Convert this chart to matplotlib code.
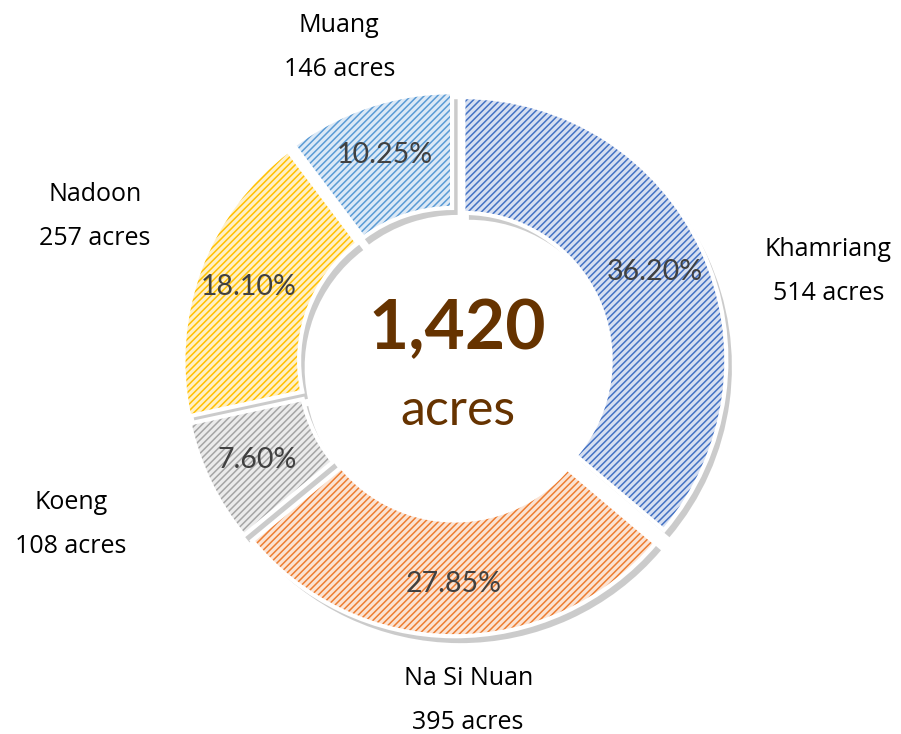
import numpy as np
import matplotlib
matplotlib.use("Agg")
import matplotlib.pyplot as plt
import matplotlib.patheffects as pe

# districts and their area (acres), clockwise from the top
districts = ["Khamriang", "Na Si Nuan", "Koeng", "Nadoon", "Muang"]
acres = [514, 395, 108, 257, 146]
pct_labels = ["36.20%", "27.85%", "7.60%", "18.10%", "10.25%"]
total_label = "1,420"

fill_colors = ["#D6DFF1", "#FBE3D3", "#EBEBEB", "#FFF0C6", "#DCE9F6"]
hatch_colors = ["#4472C4", "#ED7D31", "#A5A5A5", "#FFC000", "#5B9BD5"]

# label positions (data units, radius = 1)
label_pos = [(1.42, 0.35), (0.05, -1.28), (-1.46, -0.61), (-1.37, 0.56), (-0.44, 1.205)]

plt.rcParams["hatch.linewidth"] = 1.1
font = "Open Sans"

fig = plt.figure(figsize=(9.01, 7.34), dpi=100)
ax = fig.add_axes([0, 0, 1, 1])

explode = [0.035] * len(acres)
common = dict(startangle=90, counterclock=False, explode=explode, radius=1.0)
ring = 0.44

# base fill with a soft shadow
base, _ = ax.pie(acres, colors=fill_colors,
                 wedgeprops=dict(width=ring, linewidth=0), **common)
for w in base:
    w.set_path_effects([pe.SimplePatchShadow(offset=(4, -5), shadow_rgbFace="#555555", alpha=0.3),
                        pe.Normal()])

# hatching
hatched, _ = ax.pie(acres, colors=["none"] * len(acres),
                    wedgeprops=dict(width=ring, linewidth=0), **common)
for w, hc in zip(hatched, hatch_colors):
    w.set_facecolor("none")
    w.set_edgecolor(hc)
    w.set_linewidth(0)
    w.set_hatch("/////")

# white outlines on top
outl, _ = ax.pie(acres, colors=["none"] * len(acres),
                 wedgeprops=dict(width=ring, linewidth=3, edgecolor="white"), **common)
for w in outl:
    w.set_facecolor("none")

# pie() resets the limits, so set them afterwards
scale = 263.0
ax.set_xlim(-455 / scale, (901 - 455) / scale)
ax.set_ylim(-370 / scale, 364 / scale)
ax.set_aspect("equal")
ax.axis("off")

# percentage labels in the ring
for w, txt in zip(base, pct_labels):
    ang = np.deg2rad((w.theta1 + w.theta2) / 2)
    r = w.r - ring * 0.45
    cx, cy = w.center
    ax.text(cx + r * np.cos(ang), cy + r * np.sin(ang), txt, ha="center", va="center",
            fontsize=20.5, color="#404040", family="Lato")

# outer labels
for (x, y), name, val in zip(label_pos, districts, acres):
    ax.text(x, y, f"{name}\n{val} acres", ha="center", va="center",
            fontsize=18, color="black", family=font, linespacing=2.0)

# centre total
ax.text(0.01, 0.13, total_label, ha="center", va="center", fontsize=50,
        fontweight="bold", color="#663300", family="Lato")
ax.text(0.01, -0.18, "acres", ha="center", va="center", fontsize=36,
        color="#663300", family="Lato")

fig.savefig("out.png", dpi=100)
